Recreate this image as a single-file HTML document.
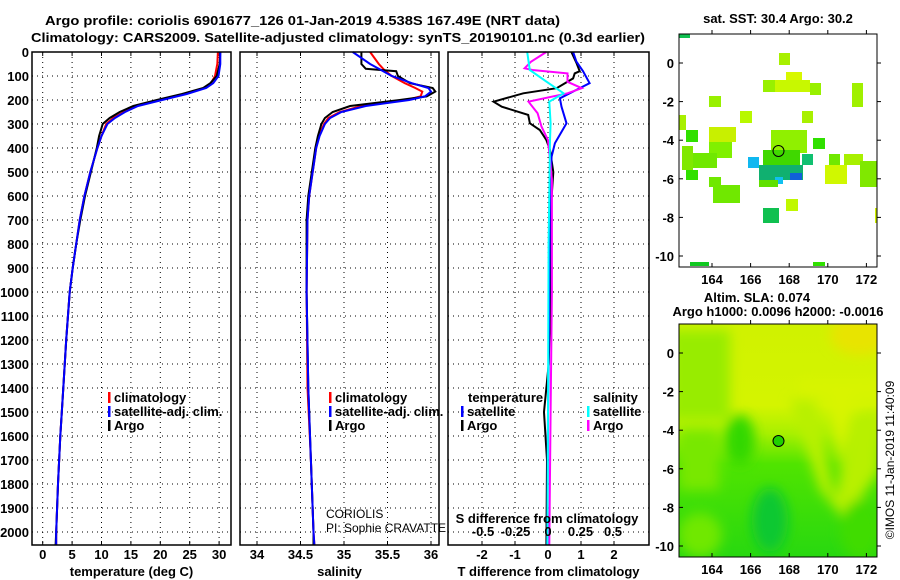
<!DOCTYPE html>
<html><head><meta charset="utf-8"><style>
html,body{margin:0;padding:0;background:#fff;}
svg{display:block;font-family:"Liberation Sans",Arial,sans-serif;}
.t{font-weight:bold;font-size:13px;fill:#000;}
</style></head><body>
<svg id="chart" width="900" height="580" viewBox="0 0 900 580" xmlns="http://www.w3.org/2000/svg">
<text x="45" y="25" class="t" font-size="14" textLength="515" lengthAdjust="spacingAndGlyphs">Argo profile: coriolis 6901677_126 01-Jan-2019 4.538S 167.49E (NRT data)</text>
<text x="31" y="42" class="t" font-size="14" textLength="614" lengthAdjust="spacingAndGlyphs">Climatology: CARS2009. Satellite-adjusted climatology: synTS_20190101.nc (0.3d earlier)</text>

<g>
<rect x="679" y="34" width="198" height="233" fill="#fff"/>
<g>
<rect x="779" y="53" width="11" height="12" fill="#a8f000"/>
<rect x="786" y="72" width="16" height="11" fill="#d8f800"/>
<rect x="763" y="80" width="12" height="12" fill="#98f000"/>
<rect x="775" y="80" width="35" height="12" fill="#c8f800"/>
<rect x="810" y="83" width="11" height="12" fill="#98f000"/>
<rect x="852" y="83" width="11" height="24" fill="#a0f000"/>
<rect x="709" y="96" width="12" height="11" fill="#98f000"/>
<rect x="740" y="111" width="12" height="12" fill="#b8f800"/>
<rect x="802" y="111" width="11" height="12" fill="#a8f000"/>
<rect x="679" y="115" width="7" height="15" fill="#a8f000"/>
<rect x="686" y="130" width="12" height="12" fill="#30e000"/>
<rect x="709" y="127" width="27" height="15" fill="#c8f000"/>
<rect x="709" y="142" width="23" height="16" fill="#80f000"/>
<rect x="813" y="138" width="12" height="11" fill="#30e000"/>
<rect x="771" y="130" width="36" height="23" fill="#90f000"/>
<rect x="682" y="146" width="11" height="24" fill="#80e800"/>
<rect x="693" y="153" width="24" height="15" fill="#70e800"/>
<rect x="763" y="150" width="37" height="15" fill="#40d800"/>
<rect x="748" y="157" width="11" height="11" fill="#10b8f0"/>
<rect x="759" y="165" width="44" height="15" fill="#10b070"/>
<rect x="802" y="154" width="11" height="11" fill="#10c070"/>
<rect x="790" y="173" width="12" height="7" fill="#1060d8"/>
<rect x="775" y="177" width="8" height="7" fill="#10c0f0"/>
<rect x="759" y="180" width="19" height="7" fill="#60e000"/>
<rect x="686" y="170" width="12" height="10" fill="#30e000"/>
<rect x="709" y="177" width="12" height="10" fill="#70e800"/>
<rect x="713" y="185" width="27" height="18" fill="#70e800"/>
<rect x="829" y="154" width="11" height="11" fill="#70e800"/>
<rect x="844" y="154" width="19" height="11" fill="#a8f000"/>
<rect x="825" y="165" width="22" height="19" fill="#d0f800"/>
<rect x="860" y="161" width="17" height="26" fill="#80e800"/>
<rect x="786" y="199" width="12" height="12" fill="#c0f800"/>
<rect x="763" y="208" width="16" height="15" fill="#10c050"/>
<rect x="679" y="34" width="11" height="4" fill="#10c050"/>
<rect x="690" y="262" width="19" height="4" fill="#10c820"/>
<rect x="813" y="262" width="12" height="4" fill="#30e000"/>
<rect x="875" y="208" width="2" height="15" fill="#d0f000"/>
</g>
<circle cx="778.5" cy="151" r="5.5" fill="none" stroke="#000" stroke-width="1"/>
<rect x="679" y="34" width="198" height="233" fill="none" stroke="#000" stroke-width="1"/>
<text x="778" y="23" class="t" text-anchor="middle">sat. SST: 30.4 Argo: 30.2</text>
</g>

<defs>
<linearGradient id="slag" x1="0" y1="0" x2="0" y2="1">
<stop offset="0" stop-color="#d0f200"/><stop offset="0.35" stop-color="#d4f400"/>
<stop offset="0.47" stop-color="#a8f000"/><stop offset="0.6" stop-color="#50e400"/>
<stop offset="1" stop-color="#28d810"/></linearGradient>
<filter id="bl"><feGaussianBlur stdDeviation="6"/></filter>
<clipPath id="c2"><rect x="679" y="324" width="198" height="233"/></clipPath>
</defs>
<g>
<g clip-path="url(#c2)">
<rect x="679" y="324" width="198" height="233" fill="url(#slag)"/>
<g filter="url(#bl)">
<rect x="670" y="330" width="60" height="90" fill="#98ec00"/>
<ellipse cx="860" cy="335" rx="30" ry="20" fill="#e8e400"/>
<polygon points="790,400 815,400 835,500 850,420 880,410 880,470 845,520 820,490" fill="#b8f000"/>
<polygon points="800,395 830,395 838,470 855,395 880,395 880,380 800,380" fill="#d8f400"/>
<ellipse cx="770" cy="520" rx="18" ry="32" fill="#10c830"/>
<rect x="679" y="430" width="40" height="60" fill="#78e800"/>
<ellipse cx="700" cy="535" rx="22" ry="22" fill="#70e800"/>
<ellipse cx="740" cy="440" rx="15" ry="25" fill="#30d800"/>
<ellipse cx="860" cy="530" rx="20" ry="30" fill="#40dc00"/>
</g>
</g>
<circle cx="778.5" cy="441" r="5.5" fill="#20d000" stroke="#000" stroke-width="1"/>
<rect x="679" y="324" width="198" height="233" fill="none" stroke="#000" stroke-width="1"/>
<text x="757" y="302" class="t" text-anchor="middle">Altim. SLA: 0.074</text>
<text x="778" y="316" class="t" text-anchor="middle">Argo h1000: 0.0096 h2000: -0.0016</text>
<text transform="translate(894,460) rotate(-90)" text-anchor="middle" font-size="12">©IMOS 11-Jan-2019 11:40:09</text>
</g>
<g id="dyn"></g>
</svg>
<script>
const depthTicks=[0,100,200,300,400,500,600,700,800,900,1000,1100,1200,1300,1400,1500,1600,1700,1800,1900,2000];
const tempTicks=[0,5,10,15,20,25,30];
const salTicks=[34,34.5,35,35.5,36];
const salLabels=["34","34.5","35","35.5","36"];
const tdiffTicks=[-2,-1,0,1,2];
const sdiffTicks=[-0.5,-0.25,0,0.25,0.5];
const sdiffLabels=["-0.5","-0.25","0","0.25","0.5"];
const mapLonTicks=[164,166,168,170,172];
const mapLatTicks=[0,-2,-4,-6,-8,-10];

const tempDepths=[0,50,100,130,150,175,200,225,250,275,300,350,400,500,600,700,800,900,1000,1200,1400,1600,1800,2000,2054];
const tempArgo=[30.2,30.1,29.6,28.5,27.3,23.7,19.4,15.4,13.1,11.4,10.2,9.6,9.2,8.2,7.2,6.4,5.7,5.1,4.6,4.0,3.5,3.0,2.6,2.3,2.2];
const tempClim=[29.8,29.7,29.3,28.6,27.5,24.2,20.0,16.0,13.8,12.0,10.8,10.0,9.3,8.1,7.1,6.3,5.7,5.1,4.6,4.0,3.5,3.0,2.6,2.3,2.3];
const tempSat=[30.2,30.2,29.9,29.0,27.8,24.5,20.3,16.2,14.0,12.3,11.0,10.0,9.3,8.1,7.1,6.3,5.7,5.1,4.6,4.0,3.5,3.0,2.6,2.3,2.3];

const salDepths=[0,50,70,80,100,130,150,165,185,200,225,250,275,300,350,400,500,600,700,1000,1400,1700,2000,2054];
const salArgo=[35.2,35.2,35.25,35.6,35.62,35.76,36.02,36.05,35.95,35.64,35.07,34.87,34.78,34.74,34.7,34.67,34.63,34.59,34.57,34.57,34.59,34.62,34.65,34.65];
const salClim=[35.3,35.4,35.45,35.48,35.55,35.7,35.82,35.9,35.88,35.72,35.2,34.95,34.82,34.77,34.71,34.68,34.64,34.6,34.58,34.57,34.58,34.62,34.65,34.66];
const salSat=[35.1,35.3,35.4,35.45,35.55,35.78,35.97,36.0,35.93,35.75,35.25,34.97,34.84,34.78,34.72,34.68,34.64,34.6,34.58,34.57,34.59,34.62,34.65,34.66];

const tdSatDepths=[0,40,80,130,158,193,228,297,380,436,600,1000,1500,2054];
const tdSat=[0.76,0.86,1.06,1.26,0.86,0.36,0.41,0.56,0.21,0.11,0.06,0.04,0.0,-0.02];
const tdArgoDepths=[0,45,80,89,110,151,172,207,228,262,297,325,367,408,500,580,700,1000,1300,1500,1700,2054];
const tdArgo=[0.71,0.86,0.96,0.81,0.76,0.26,-0.75,-1.65,-1.4,-0.6,-0.55,-0.25,-0.05,0.06,0.16,0.12,0.06,0.08,0.02,-0.12,-0.03,-0.05];
const sdArgoDepths=[0,40,68,75,89,124,151,172,207,255,311,367,530,1000,1500,2054];
const sdArgo=[-0.013,-0.13,-0.18,-0.12,0.15,0.15,0.26,0.15,-0.15,-0.08,-0.05,0.0,0.03,0.03,0.02,0.01];
const sdSatDepths=[0,75,124,172,207,297,367,800,1500,2054];
const sdSat=[-0.16,-0.14,-0.01,0.12,0.01,0.02,0.015,0.005,0.0,-0.005];

const pTop=52, pBottom=545, pxm=0.24;
const yD=d=>pTop+d*pxm;
const p1={l:32,r:231}, p2={l:240,r:439}, p3={l:448,r:649};
const xT=v=>42.7+v*5.88;
const xS=v=>257+(v-34)*87;
const xTD=v=>548+v*33;
const xSD=v=>548+v*130;

const NS="http://www.w3.org/2000/svg";
const dynRoot=document.getElementById('dyn');
function mk(tag,attrs,parent){const e=document.createElementNS(NS,tag);for(const k in attrs)e.setAttribute(k,attrs[k]);(parent||dynRoot).appendChild(e);return e;}

function panel(p,name,xTicks,xf,labels,ly,xtitle){
  const g=mk('g',{});
  
  
  depthTicks.forEach(d=>{
    const l=mk('line',{x1:p.l,x2:p.r,y1:yD(d),y2:yD(d),stroke:'#000','stroke-width':1,'stroke-dasharray':'1,4'},g);
    
    
  });
  xTicks.forEach((v,i)=>{
    const x=xf(v);
    const l=mk('line',{x1:x,x2:x,y1:pTop,y2:pBottom,stroke:'#000','stroke-width':1,'stroke-dasharray':'1,4'},g);
    
    
    mk('line',{x1:x,x2:x,y1:pTop,y2:pTop+4,stroke:'#000'},g);
    mk('line',{x1:x,x2:x,y1:pBottom,y2:pBottom-4,stroke:'#000'},g);
    const t=mk('text',{x:x,y:ly,'text-anchor':'middle','class':'t'},g);
    t.textContent=labels[i];
    
    
  });
  const t=mk('text',{x:(p.l+p.r)/2,y:576,'text-anchor':'middle','class':'t'},g);
  t.textContent=xtitle;
  
  
  return g;
}
function series(g,depths,vals,xf,color,name){
  const pts=vals.map((v,i)=>xf(v).toFixed(1)+','+yD(depths[i]).toFixed(1)).join(' ');
  const pl=mk('polyline',{points:pts,fill:'none',stroke:color,'stroke-width':2},g);
  
  
}
function legend(g,x,y,color,label,name){
  mk('rect',{x:x,y:y-10,width:2.5,height:11,fill:color},g);
  const t=mk('text',{x:x+6,y:y,'class':'t'},g);
  t.textContent=label;
  
  
}

depthTicks.forEach(d=>{
  const t=mk('text',{x:29,y:yD(d)+5,'text-anchor':'end','class':'t'});
  t.textContent=d;
  
  
});

const g1=panel(p1,'temperature-panel',tempTicks,xT,tempTicks.map(String),559,'temperature (deg C)');
series(g1,tempDepths,tempClim,xT,'#ff0000','temp-climatology-line');
series(g1,tempDepths,tempArgo,xT,'#000000','temp-argo-line');
series(g1,tempDepths,tempSat,xT,'#0000ff','temp-satellite-line');
legend(g1,108,402,'#ff0000','climatology','legend-climatology');
legend(g1,108,416,'#0000ff','satellite-adj. clim.','legend-satellite-adj');
legend(g1,108,430,'#000000','Argo','legend-argo');

const g2=panel(p2,'salinity-panel',salTicks,xS,salLabels,559,'salinity');
series(g2,salDepths,salClim,xS,'#ff0000','sal-climatology-line');
series(g2,salDepths,salArgo,xS,'#000000','sal-argo-line');
series(g2,salDepths,salSat,xS,'#0000ff','sal-satellite-line');
legend(g2,329,402,'#ff0000','climatology','legend-climatology-sal');
legend(g2,329,416,'#0000ff','satellite-adj. clim.','legend-satellite-adj-sal');
legend(g2,329,430,'#000000','Argo','legend-argo-sal');
const c1=mk('text',{x:326,y:518,'font-size':12},g2);c1.textContent='CORIOLIS';


const c2=mk('text',{x:326,y:532,'font-size':12},g2);c2.textContent='PI: Sophie CRAVATTE';



const g3=panel(p3,'difference-panel',tdiffTicks,xTD,tdiffTicks.map(String),559,'T difference from climatology');
series(g3,tdArgoDepths,tdArgo,xTD,'#000000','tdiff-argo-line');
series(g3,tdSatDepths,tdSat,xTD,'#0000ff','tdiff-satellite-line');
series(g3,sdArgoDepths,sdArgo,xSD,'#ff00ff','sdiff-argo-line');
series(g3,sdSatDepths,sdSat,xSD,'#00ffff','sdiff-satellite-line');
sdiffTicks.forEach((v,i)=>{
  const t=mk('text',{x:xSD(v),y:536,'text-anchor':'middle','class':'t'},g3);
  t.textContent=sdiffLabels[i];
  
  
});
const st=mk('text',{x:547,y:523,'text-anchor':'middle','class':'t'},g3);st.textContent='S difference from climatology';


const lt=mk('text',{x:468,y:402,'class':'t'},g3);lt.textContent='temperature';


const ls=mk('text',{x:593,y:402,'class':'t'},g3);ls.textContent='salinity';


legend(g3,461,416,'#0000ff','satellite','legend-t-satellite');
legend(g3,461,430,'#000000','Argo','legend-t-argo');
legend(g3,587,416,'#00ffff','satellite','legend-s-satellite');
legend(g3,587,430,'#ff00ff','Argo','legend-s-argo');

[p1,p2,p3].forEach(p=>mk('rect',{x:p.l,y:pTop,width:p.r-p.l,height:pBottom-pTop,fill:'none',stroke:'#000','stroke-width':1.5}));

function mapAxes(t,b,name){
  const g=mk('g',{});
  
  
  const lat0=t+29, ppd=19.3;
  mapLonTicks.forEach(v=>{
    const x=712+(v-164)*ppd;
    mk('line',{x1:x,x2:x,y1:t,y2:t-4,stroke:'#000'},g);
    mk('line',{x1:x,x2:x,y1:b,y2:b-4,stroke:'#000'},g);
    const tx=mk('text',{x:x,y:b+17,'text-anchor':'middle','class':'t'},g);tx.textContent=v;
    
    
  });
  mapLatTicks.forEach(v=>{
    const y=lat0-v*ppd;
    mk('line',{x1:679,x2:683,y1:y,y2:y,stroke:'#000'},g);
    mk('line',{x1:877,x2:881,y1:y,y2:y,stroke:'#000'},g);
    const tx=mk('text',{x:674,y:y+5,'text-anchor':'end','class':'t'},g);tx.textContent=v;
    
    
  });
}
mapAxes(34,267,'sst-map-axes');
mapAxes(324,557,'sla-map-axes');
</script>
</body></html>
